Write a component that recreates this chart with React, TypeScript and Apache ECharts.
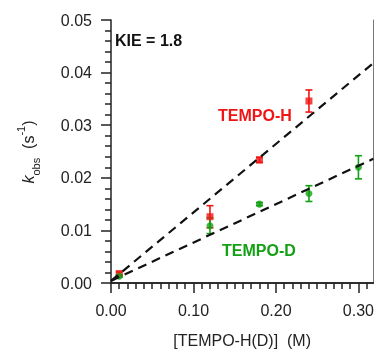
import React, { useEffect, useRef } from "react";
import * as echarts from "echarts";

const hX = [0.01, 0.12, 0.18, 0.24];
const hY = [0.0018, 0.0126, 0.0234, 0.0346];
const hErr = [0.0003, 0.0021, 0.0005, 0.0021];

const dX = [0.01, 0.12, 0.18, 0.24, 0.3];
const dY = [0.0013, 0.0109, 0.015, 0.017, 0.022];
const dErr = [0.0002, 0.0015, 0.0003, 0.0015, 0.0022];

const hFit = [[0, 0.0004], [0.318, 0.0418]];
const dFit = [[0, 0.0004], [0.318, 0.0236]];

const xMajor = [0, 0.1, 0.2, 0.3];
const xMinor = [0.01, 0.02, 0.03, 0.04, 0.05, 0.06, 0.07, 0.08, 0.09, 0.11, 0.12, 0.13, 0.14, 0.15, 0.16, 0.17, 0.18, 0.19, 0.21, 0.22, 0.23, 0.24, 0.25, 0.26, 0.27, 0.28, 0.29, 0.31];

const RED = "#f01414";
const GREEN = "#14a014";
const FONT = "Liberation Sans, Arial, sans-serif";
const INK = "#222";

function errSeries(xs: number[], ys: number[], es: number[], color: string) {
  return {
    type: "custom",
    xAxisIndex: 0,
    yAxisIndex: 0,
    z: 3,
    data: xs.map((x, i) => [x, ys[i] - es[i], ys[i] + es[i]]),
    renderItem: (params: any, api: any) => {
      const lo = api.coord([api.value(0), api.value(1)]);
      const hi = api.coord([api.value(0), api.value(2)]);
      const w = 3.5;
      const st = { stroke: color, lineWidth: 1.6 };
      return {
        type: "group",
        children: [
          { type: "line", shape: { x1: lo[0], y1: lo[1], x2: hi[0], y2: hi[1] }, style: st },
          { type: "line", shape: { x1: lo[0] - w, y1: lo[1], x2: lo[0] + w, y2: lo[1] }, style: st },
          { type: "line", shape: { x1: hi[0] - w, y1: hi[1], x2: hi[0] + w, y2: hi[1] }, style: st },
        ],
      };
    },
  };
}

export default function App() {
  const ref = useRef<HTMLDivElement>(null);
  useEffect(() => {
    const chart = echarts.init(ref.current!, null, { renderer: "svg" });
    chart.setOption({
      animation: false,
      grid: { left: 111, right: 2, top: 20, bottom: 68 },
      xAxis: [
        {
          type: "value",
          min: 0,
          max: 0.318,
          axisLine: { show: true, onZero: false, lineStyle: { color: INK, width: 1.5 } },
          axisTick: { show: true, customValues: xMajor, length: 10, lineStyle: { color: INK, width: 1.5 } },
          axisLabel: { customValues: xMajor, formatter: (v: number) => v.toFixed(2), fontSize: 16, color: INK, fontFamily: FONT, margin: 19 },
          splitLine: { show: false },
          name: "[TEMPO-H(D)]  (M)",
          nameLocation: "middle",
          nameGap: 49,
          nameTextStyle: { fontSize: 16, color: INK, fontFamily: FONT },
        },
        {
          type: "value",
          min: 0,
          max: 0.318,
          position: "bottom",
          offset: 0,
          axisLine: { show: true, onZero: false, lineStyle: { color: INK, width: 1.5 } },
          axisTick: { show: true, customValues: xMinor, length: 6, lineStyle: { color: INK, width: 1.5 } },
          axisLabel: { show: false },
          splitLine: { show: false },
        },
      ],
      yAxis: [
        {
          type: "value",
          min: 0,
          max: 0.05,
          interval: 0.01,
          axisLine: { show: true, onZero: false, lineStyle: { color: INK, width: 1.5 } },
          axisTick: { show: true, length: 10, lineStyle: { color: INK, width: 1.5 } },
          minorTick: { show: true, splitNumber: 5, length: 6, lineStyle: { color: INK, width: 1.5 } },
          axisLabel: { formatter: (v: number) => v.toFixed(2), fontSize: 16, color: INK, fontFamily: FONT, margin: 19 },
          splitLine: { show: false },
        },
        {
          type: "value",
          min: 0,
          max: 0.05,
          position: "right",
          axisLine: { show: true, onZero: false, lineStyle: { color: "#777", width: 1 } },
          axisTick: { show: false },
          axisLabel: { show: false },
          splitLine: { show: false },
        },
      ],
      graphic: [
        {
          type: "text",
          x: 28,
          y: 152,
          rotation: Math.PI / 2,
          style: {
            text: "{k|k}{sub|obs}{n|  (s}{sup|-1}{n|)}",
            align: "center",
            verticalAlign: "middle",
            fill: INK,
            rich: {
              k: { fontSize: 16, fontStyle: "italic", fontFamily: FONT, lineHeight: 26, verticalAlign: "middle", fill: INK },
              n: { fontSize: 16, fontFamily: FONT, lineHeight: 26, verticalAlign: "middle", fill: INK },
              sub: { fontSize: 11, fontFamily: FONT, lineHeight: 11, verticalAlign: "bottom", fill: INK },
              sup: { fontSize: 11, fontFamily: FONT, lineHeight: 11, verticalAlign: "top", fill: INK },
            },
          },
        },
        { type: "text", x: 115, y: 40, style: { text: "KIE = 1.8", fontSize: 16, fontWeight: "bold", fontFamily: FONT, fill: "#111", verticalAlign: "middle" } },
        { type: "text", x: 218, y: 115, style: { text: "TEMPO-H", fontSize: 16, fontWeight: "bold", fontFamily: FONT, fill: RED, verticalAlign: "middle" } },
        { type: "text", x: 222, y: 250, style: { text: "TEMPO-D", fontSize: 16, fontWeight: "bold", fontFamily: FONT, fill: GREEN, verticalAlign: "middle" } },
      ],
      series: [
        errSeries(hX, hY, hErr, RED),
        errSeries(dX, dY, dErr, GREEN),
        { type: "scatter", data: hX.map((x, i) => [x, hY[i]]), symbol: "rect", symbolSize: 7, itemStyle: { color: RED }, z: 4 },
        { type: "scatter", data: dX.map((x, i) => [x, dY[i]]), symbol: "circle", symbolSize: 7, itemStyle: { color: GREEN }, z: 4 },
        { type: "line", data: hFit, showSymbol: false, symbol: "none", lineStyle: { color: "#111", width: 2.2, type: [9, 6] }, z: 5 },
        { type: "line", data: dFit, showSymbol: false, symbol: "none", lineStyle: { color: "#111", width: 2.2, type: [9, 6] }, z: 5 },
      ],
    });
    return () => chart.dispose();
  }, []);
  return <div ref={ref} style={{ position: "fixed", left: 0, top: 0, width: 377, height: 353 }} />;
}
